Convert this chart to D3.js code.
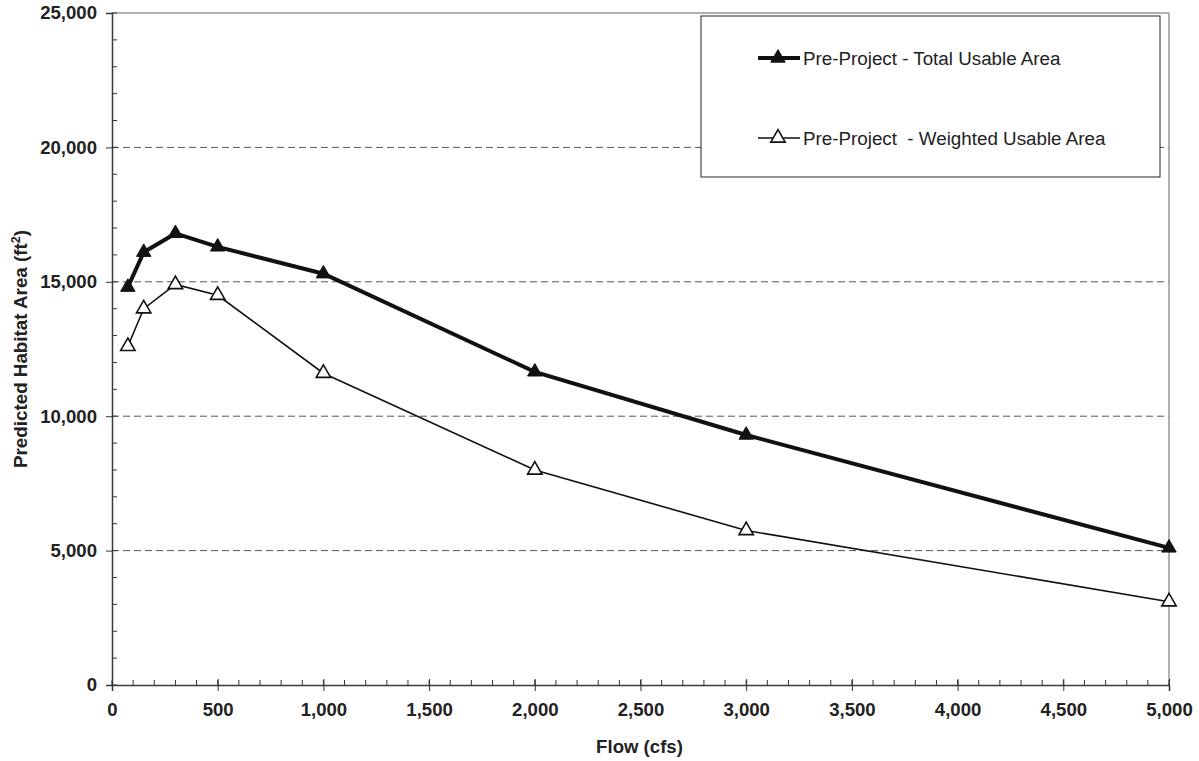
<!DOCTYPE html>
<html>
<head>
<meta charset="utf-8">
<script src="https://cdn.jsdelivr.net/npm/d3@7"></script>
<style>
  html, body { margin: 0; padding: 0; background: #fff; }
  svg { display: block; }
</style>
</head>
<body>
<script>
// ---- data ----
const flows = [75, 150, 300, 500, 1000, 2000, 3000, 5000];
const totalArea = [14800, 16100, 16800, 16300, 15300, 11650, 9300, 5100];
const weightedArea = [12600, 14000, 14900, 14500, 11600, 8000, 5750, 3100];
const xTicks = [0, 500, 1000, 1500, 2000, 2500, 3000, 3500, 4000, 4500, 5000];
const yTicks = [0, 5000, 10000, 15000, 20000, 25000];
const gridValues = [5000, 10000, 15000, 20000];
const seriesNames = ["Pre-Project - Total Usable Area", "Pre-Project  - Weighted Usable Area"];

(function () {
const W = 1199, H = 761;
const pL = 112, pR = 1169, pT = 13, pB = 685;

const svg = d3.select("body").append("svg").attr("width", W).attr("height", H);

const x = d3.scaleLinear().domain([0, 5000]).range([pL, pR]);
const y = d3.scaleLinear().domain([0, 25000]).range([pB, pT]);

const textColor = "#222";
const fontFam = "Liberation Sans, Arial, sans-serif";

// gridlines
svg.append("g").selectAll("line").data(gridValues).join("line")
  .attr("x1", pL).attr("x2", pR)
  .attr("y1", d => y(d)).attr("y2", d => y(d))
  .attr("stroke", "#555").attr("stroke-width", 1)
  .attr("stroke-dasharray", "7,4");

// plot border top & right (gray)
svg.append("line").attr("x1", pL).attr("x2", pR).attr("y1", pT).attr("y2", pT)
  .attr("stroke", "#999").attr("stroke-width", 1.5);
svg.append("line").attr("x1", pR).attr("x2", pR).attr("y1", pT).attr("y2", pB)
  .attr("stroke", "#999").attr("stroke-width", 1.5);

// minor ticks
const yMinor = d3.range(0, 25001, 1000);
svg.append("g").selectAll("line").data(yMinor).join("line")
  .attr("x1", pL).attr("x2", pL + 5)
  .attr("y1", d => y(d)).attr("y2", d => y(d))
  .attr("stroke", "#333").attr("stroke-width", 1);
const xMinor = d3.range(0, 5001, 100);
svg.append("g").selectAll("line").data(xMinor).join("line")
  .attr("x1", d => x(d)).attr("x2", d => x(d))
  .attr("y1", pB).attr("y2", pB - 5)
  .attr("stroke", "#333").attr("stroke-width", 1);

// axes
const fmt = d3.format(",");
const yAxis = d3.axisLeft(y).tickValues(yTicks).tickFormat(fmt).tickSize(6).tickPadding(9);
const gy = svg.append("g").attr("transform", `translate(${pL},0)`).call(yAxis);
const xAxis = d3.axisBottom(x).tickValues(xTicks).tickFormat(fmt).tickSize(6).tickPadding(12);
const gx = svg.append("g").attr("transform", `translate(0,${pB})`).call(xAxis);

[gx, gy].forEach(g => {
  g.select(".domain").attr("stroke", "#3a3a3a").attr("stroke-width", 1.5);
  g.selectAll(".tick line").attr("stroke", "#333").attr("stroke-width", 1);
  g.selectAll(".tick text").attr("fill", textColor)
    .style("font-family", fontFam).style("font-weight", "bold").style("font-size", "18.6px");
});
gx.selectAll(".tick line").attr("y1", -6).attr("y2", 6);

// axis titles
svg.append("text")
  .attr("x", (pL + pR) / 2 - 1).attr("y", 753)
  .attr("text-anchor", "middle")
  .attr("fill", textColor)
  .style("font-family", fontFam).style("font-weight", "bold").style("font-size", "18.6px")
  .text("Flow (cfs)");

const yt = svg.append("text")
  .attr("transform", `translate(27,349) rotate(-90)`)
  .attr("text-anchor", "middle")
  .attr("fill", textColor)
  .style("font-family", fontFam).style("font-weight", "bold").style("font-size", "18.8px");
yt.append("tspan").text("Predicted Habitat Area (ft");
yt.append("tspan").attr("dy", -7).style("font-size", "12.5px").text("2");
yt.append("tspan").attr("dy", 7).text(")");

// lines
const line = d3.line().x(d => x(d[0])).y(d => y(d[1]));
const totalPts = flows.map((f, i) => [f, totalArea[i]]);
const weightedPts = flows.map((f, i) => [f, weightedArea[i]]);

svg.append("path").datum(weightedPts).attr("d", line)
  .attr("fill", "none").attr("stroke", "#111").attr("stroke-width", 1.6);
svg.append("path").datum(totalPts).attr("d", line)
  .attr("fill", "none").attr("stroke", "#111").attr("stroke-width", 4);

const tri = d3.symbol().type(d3.symbolTriangle).size(90);

svg.append("g").selectAll("path").data(weightedPts).join("path")
  .attr("transform", d => `translate(${x(d[0])},${y(d[1])})`)
  .attr("d", tri).attr("fill", "#fff").attr("stroke", "#111").attr("stroke-width", 1.6);
svg.append("g").selectAll("path").data(totalPts).join("path")
  .attr("transform", d => `translate(${x(d[0])},${y(d[1])})`)
  .attr("d", tri).attr("fill", "#111").attr("stroke", "#111").attr("stroke-width", 1);

// legend
const lg = svg.append("g");
lg.append("rect").attr("x", 701).attr("y", 16).attr("width", 459).attr("height", 161)
  .attr("fill", "#fff").attr("stroke", "#222").attr("stroke-width", 1);

const legendRows = [
  { name: seriesNames[0], yy: 58, sw: 4, fill: "#111" },
  { name: seriesNames[1], yy: 138, sw: 1.6, fill: "#fff" }
];
legendRows.forEach(r => {
  lg.append("line").attr("x1", 758).attr("x2", 800).attr("y1", r.yy).attr("y2", r.yy)
    .attr("stroke", "#111").attr("stroke-width", r.sw);
  lg.append("path").attr("transform", `translate(778,${r.yy})`).attr("d", tri)
    .attr("fill", r.fill).attr("stroke", "#111").attr("stroke-width", r.sw > 2 ? 1 : 1.6);
  lg.append("text").attr("x", 803).attr("y", r.yy + 6.5)
    .attr("fill", textColor)
    .style("font-family", fontFam).style("font-size", "18.8px")
    .style("white-space", "pre")
    .text(r.name);
});
})();
</script>
</body>
</html>
